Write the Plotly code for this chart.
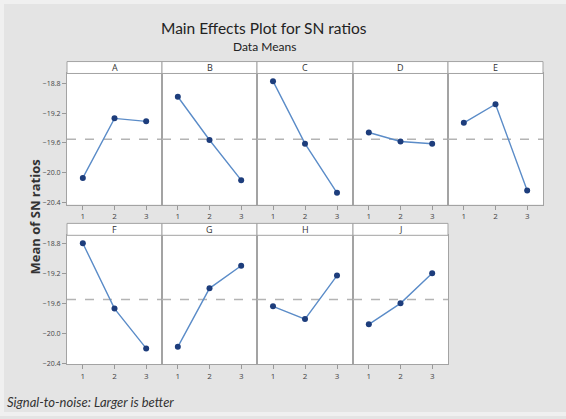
import plotly.graph_objects as go

W, H = 566, 419

factors = ["A", "B", "C", "D", "E", "F", "G", "H", "J"]
levels = [1, 2, 3]
sn_means = {
    "A": [-20.07, -19.27, -19.31],
    "B": [-18.98, -19.56, -20.10],
    "C": [-18.77, -19.61, -20.27],
    "D": [-19.46, -19.58, -19.61],
    "E": [-19.33, -19.08, -20.24],
    "F": [-18.80, -19.67, -20.20],
    "G": [-20.18, -19.40, -19.10],
    "H": [-19.64, -19.81, -19.23],
    "J": [-19.88, -19.60, -19.20],
}
overall_mean = -19.55
y_ticks = [-18.8, -19.2, -19.6, -20.0, -20.4]

# layout in pixels
col_x = [(67, 162), (162, 257), (257, 353), (353, 448), (448, 543)]
rows = [
    {"strip": (62, 74), "plot": (74, 206), "range": [-20.427, -18.667]},
    {"strip": (225, 237), "plot": (237, 367), "range": [-20.413, -18.694]},
]

def px(x):
    return x / W

def py(y):
    return 1 - y / H

fig = go.Figure()
shapes = []
annotations = []

line_col = "#5b8cc8"
marker_col = "#1d3d7c"
frame_col = "#a3a3a3"

# light outer border
shapes.append(dict(type="rect", xref="paper", yref="paper",
                   x0=px(2), x1=px(568), y0=py(417), y1=py(2),
                   fillcolor="rgba(0,0,0,0)", line=dict(color="#f0f0f0", width=4), layer="below"))

for i, f in enumerate(factors):
    r = 0 if i < 5 else 1
    c = i if i < 5 else i - 5
    row = rows[r]
    x0, x1 = col_x[c]
    p0, p1 = row["plot"]
    s0, s1 = row["strip"]
    n = i + 1
    xa = "x" if n == 1 else f"x{n}"
    ya = "y" if n == 1 else f"y{n}"
    # mean reference line
    fig.add_trace(go.Scatter(x=[0.5, 3.5], y=[overall_mean, overall_mean], mode="lines",
                             line=dict(color="#b4b4b4", width=1.4, dash="dash"),
                             xaxis=xa, yaxis=ya, hoverinfo="skip", showlegend=False))
    fig.add_trace(go.Scatter(x=levels, y=sn_means[f], mode="lines+markers",
                             line=dict(color=line_col, width=1.4),
                             marker=dict(color=marker_col, size=6),
                             xaxis=xa, yaxis=ya, showlegend=False))
    axx = dict(domain=[px(x0), px(x1)], range=[0.5, 3.5], anchor=ya,
               tickvals=levels, ticktext=[str(v) for v in levels],
               showgrid=False, zeroline=False, showline=True, mirror=True,
               linecolor=frame_col, linewidth=1, ticks="outside", ticklen=4,
               tickcolor="#999999", tickfont=dict(size=8, color="#444444", family="Open Sans"),
               fixedrange=True)
    axy = dict(domain=[py(p1), py(p0)], range=row["range"], anchor=xa,
               tickvals=y_ticks, showgrid=False, zeroline=False, showline=True, mirror=True,
               linecolor=frame_col, linewidth=1, fixedrange=True,
               ticks="outside" if c == 0 else "", ticklen=4, tickcolor="#999999",
               showticklabels=(c == 0), tickformat=".1f",
               tickfont=dict(size=7, color="#444444", family="Open Sans"))
    key = "" if n == 1 else str(n)
    fig.layout["xaxis" + key] = axx
    fig.layout["yaxis" + key] = axy
    # strip
    shapes.append(dict(type="rect", xref="paper", yref="paper",
                       x0=px(x0), x1=px(x1), y0=py(s1), y1=py(s0),
                       fillcolor="white", line=dict(color=frame_col, width=1)))
    annotations.append(dict(text=f, xref="paper", yref="paper",
                            x=px((x0 + x1) / 2), y=py((s0 + s1) / 2),
                            showarrow=False, xanchor="center", yanchor="middle",
                            font=dict(size=9, color="#333333", family="Open Sans")))

annotations.append(dict(text="Main Effects Plot for SN ratios", xref="paper", yref="paper",
                        x=px(264), y=py(28), showarrow=False, xanchor="center", yanchor="middle",
                        font=dict(size=15.5, color="#222222", family="Lato")))
annotations.append(dict(text="Data Means", xref="paper", yref="paper",
                        x=px(264), y=py(47), showarrow=False, xanchor="center", yanchor="middle",
                        font=dict(size=12, color="#222222", family="Lato")))
annotations.append(dict(text="<b>Mean of SN ratios</b>", xref="paper", yref="paper",
                        x=px(35), y=py(219), showarrow=False, textangle=-90,
                        xanchor="center", yanchor="middle",
                        font=dict(size=13, color="#333333", family="Open Sans")))
annotations.append(dict(text="<i>Signal-to-noise: Larger is better</i>", xref="paper", yref="paper",
                        x=px(5), y=py(405), showarrow=False, xanchor="left", yanchor="middle",
                        font=dict(size=13, color="#333333", family="Lato")))

fig.update_layout(width=W, height=H, margin=dict(l=0, r=0, t=0, b=0),
                  paper_bgcolor="#e4e4e4", plot_bgcolor="white",
                  shapes=shapes, annotations=annotations)

fig.write_html("out.html")
